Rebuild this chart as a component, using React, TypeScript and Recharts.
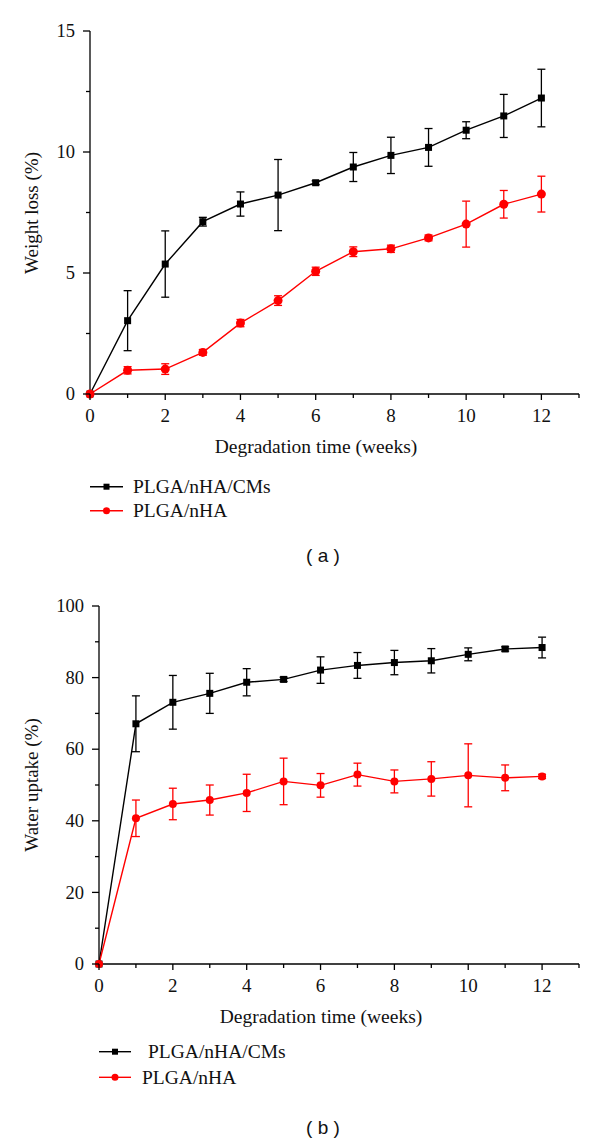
import { ErrorBar, Line, LineChart, XAxis, YAxis } from "recharts";

// weeks of degradation
const weeks = [0, 1, 2, 3, 4, 5, 6, 7, 8, 9, 10, 11, 12];

// (a) weight loss, %
const lossCMs = [0, 3.03, 5.37, 7.12, 7.85, 8.22, 8.73, 9.38, 9.86, 10.19, 10.9, 11.49, 12.23];
const lossCMsErr = [0, 1.24, 1.37, 0.18, 0.5, 1.47, 0.08, 0.6, 0.75, 0.78, 0.35, 0.89, 1.19];
const lossHA = [0, 0.98, 1.03, 1.72, 2.93, 3.86, 5.07, 5.88, 6.0, 6.45, 7.02, 7.84, 8.26];
const lossHAErr = [0, 0.15, 0.22, 0.12, 0.15, 0.2, 0.17, 0.2, 0.15, 0.12, 0.95, 0.57, 0.74];

// (b) water uptake, %
const uptakeCMs = [0, 67.1, 73.1, 75.6, 78.7, 79.5, 82.1, 83.4, 84.2, 84.7, 86.5, 88.0, 88.4];
const uptakeCMsErr = [0, 7.8, 7.5, 5.6, 3.8, 0.6, 3.7, 3.6, 3.4, 3.4, 1.8, 0.6, 2.9];
const uptakeHA = [0, 40.7, 44.7, 45.8, 47.8, 51.0, 49.9, 52.9, 51.0, 51.7, 52.7, 52.0, 52.4];
const uptakeHAErr = [0, 5.1, 4.4, 4.2, 5.2, 6.5, 3.3, 3.2, 3.2, 4.8, 8.8, 3.6, 0.6];

const xTicks = [0, 1, 2, 3, 4, 5, 6, 7, 8, 9, 10, 11, 12, 13];
const xLabels = [0, 2, 4, 6, 8, 10, 12];
const lossTicks = [0, 2.5, 5, 7.5, 10, 12.5, 15];
const lossLabels = [0, 5, 10, 15];
const uptakeTicks = [0, 10, 20, 30, 40, 50, 60, 70, 80, 90, 100];
const uptakeLabels = [0, 20, 40, 60, 80, 100];

const SERIF = '"Liberation Serif", "Times New Roman", serif';
const SANS = '"Liberation Sans", Arial, sans-serif';
const RED = "#ff0000";
const INK = "#111";

type Row = { week: number; cms: number; cmsErr: number; ha: number; haErr: number };

function rows(cms: number[], cmsErr: number[], ha: number[], haErr: number[]): Row[] {
  return weeks.map((w, i) => ({ week: w, cms: cms[i], cmsErr: cmsErr[i], ha: ha[i], haErr: haErr[i] }));
}

function makeXTick(labels: number[]) {
  return (props: any) => {
    const { x, y, payload } = props;
    const major = labels.includes(payload.value);
    return (
      <g>
        <line x1={x} y1={y} x2={x} y2={y + (major ? 6 : 4)} stroke="#000" strokeWidth={1.3} />
        {major ? (
          <text x={x} y={y + 28} textAnchor="middle" fontSize={19} fontFamily={SERIF} fill={INK}>
            {payload.value}
          </text>
        ) : null}
      </g>
    );
  };
}

function makeYTick(labels: number[]) {
  return (props: any) => {
    const { x, y, payload } = props;
    const major = labels.includes(payload.value);
    return (
      <g>
        <line x1={x - (major ? 7 : 4)} y1={y} x2={x} y2={y} stroke="#000" strokeWidth={1.3} />
        {major ? (
          <text x={x - 15} y={y} dy="0.34em" textAnchor="end" fontSize={18.5} fontFamily={SERIF} fill={INK}>
            {payload.value}
          </text>
        ) : null}
      </g>
    );
  };
}

function squareDot(size: number) {
  return (p: any) => {
    if (p.cx == null || p.cy == null) return <g key={p.index} />;
    return <rect key={p.index} x={p.cx - size / 2} y={p.cy - size / 2} width={size} height={size} fill="#000" />;
  };
}

type PanelProps = {
  data: Row[];
  top: number;
  height: number;
  marginTop: number;
  left: number;
  yDomain: [number, number];
  yTicks: number[];
  yLabels: number[];
  sq: number;
  r: number;
};

function Panel({ data, top, height, marginTop, left, yDomain, yTicks, yLabels, sq, r }: PanelProps) {
  return (
    <div style={{ position: "absolute", left: 0, top, width: 600, height }}>
      <LineChart width={600} height={height} data={data} margin={{ top: marginTop, right: 21, bottom: 24, left: left - 60 }}>
        <XAxis
          type="number"
          dataKey="week"
          domain={[0, 13]}
          ticks={xTicks}
          interval={0}
          tick={makeXTick(xLabels)}
          tickLine={false}
          tickSize={0}
          tickMargin={0}
          axisLine={{ stroke: "#000", strokeWidth: 1.3 }}
          height={26}
        />
        <YAxis
          type="number"
          domain={yDomain}
          ticks={yTicks}
          interval={0}
          tick={makeYTick(yLabels)}
          tickLine={false}
          tickSize={0}
          tickMargin={0}
          axisLine={{ stroke: "#000", strokeWidth: 1.3 }}
          width={60}
        />
        <Line dataKey="cms" stroke="#000" strokeWidth={1.4} dot={squareDot(sq)} isAnimationActive={false}>
          <ErrorBar dataKey="cmsErr" width={4} stroke="#000" strokeWidth={1.3} direction="y" isAnimationActive={false} />
        </Line>
        <Line
          dataKey="ha"
          stroke={RED}
          strokeWidth={1.4}
          dot={{ r, fill: RED, stroke: RED, strokeWidth: 0 }}
          isAnimationActive={false}
        >
          <ErrorBar dataKey="haErr" width={4} stroke={RED} strokeWidth={1.3} direction="y" isAnimationActive={false} />
        </Line>
      </LineChart>
    </div>
  );
}

function LegendRow({ y, x0, x1, textX, kind, label }: { y: number; x0: number; x1: number; textX: number; kind: "sq" | "dot"; label: string }) {
  const color = kind === "sq" ? "#000" : RED;
  const mid = (x0 + x1) / 2;
  return (
    <g>
      <line x1={x0} y1={y} x2={x1} y2={y} stroke={color} strokeWidth={1.4} />
      {kind === "sq" ? (
        <rect x={mid - 3} y={y - 3} width={6} height={6} fill="#000" />
      ) : (
        <circle cx={mid} cy={y} r={3.5} fill={RED} />
      )}
      <text x={textX} y={y + 6.5} fontSize={19.5} fontFamily={SERIF} fill={INK}>
        {label}
      </text>
    </g>
  );
}

export default function App() {
  const lossRows = rows(lossCMs, lossCMsErr, lossHA, lossHAErr);
  const uptakeRows = rows(uptakeCMs, uptakeCMsErr, uptakeHA, uptakeHAErr);

  return (
    <div style={{ position: "absolute", left: 0, top: 0, width: 600, height: 1141, background: "#fff", overflow: "hidden" }}>
      {/* plot area 31..394 */}
      <Panel
        data={lossRows}
        top={0}
        height={444}
        marginTop={31}
        left={90}
        yDomain={[0, 15]}
        yTicks={lossTicks}
        yLabels={lossLabels}
        sq={7}
        r={4.5}
      />
      {/* plot area 606..964 */}
      <Panel
        data={uptakeRows}
        top={590}
        height={424}
        marginTop={16}
        left={99}
        yDomain={[0, 100]}
        yTicks={uptakeTicks}
        yLabels={uptakeLabels}
        sq={7}
        r={4}
      />
      <svg width={600} height={1141} style={{ position: "absolute", left: 0, top: 0, pointerEvents: "none" }}>
        {/* panel (a) */}
        <text x={31.5} y={213} transform="rotate(-90 31.5 213)" textAnchor="middle" dominantBaseline="central" fontSize={19} fontFamily={SERIF} fill={INK}>
          Weight loss (%)
        </text>
        <text x={316} y={453} textAnchor="middle" fontSize={19.5} fontFamily={SERIF} fill={INK}>
          Degradation time (weeks)
        </text>
        <LegendRow y={486.7} x0={90} x1={123} textX={133} kind="sq" label="PLGA/nHA/CMs" />
        <LegendRow y={510.7} x0={90} x1={123} textX={133} kind="dot" label="PLGA/nHA" />
        <text x={323} y={555.5} textAnchor="middle" dominantBaseline="central" fontSize={19} fontFamily={SANS} fill={INK}>
          ( a )
        </text>

        {/* panel (b) */}
        <text x={31.5} y={785} transform="rotate(-90 31.5 785)" textAnchor="middle" dominantBaseline="central" fontSize={19} fontFamily={SERIF} fill={INK}>
          Water uptake (%)
        </text>
        <text x={321} y={1022.7} textAnchor="middle" fontSize={19.5} fontFamily={SERIF} fill={INK}>
          Degradation time (weeks)
        </text>
        <LegendRow y={1051.7} x0={99} x1={131} textX={148} kind="sq" label="PLGA/nHA/CMs" />
        <LegendRow y={1077.3} x0={99} x1={131} textX={142} kind="dot" label="PLGA/nHA" />
        <text x={323} y={1127} textAnchor="middle" dominantBaseline="central" fontSize={19} fontFamily={SANS} fill={INK}>
          ( b )
        </text>
      </svg>
    </div>
  );
}
